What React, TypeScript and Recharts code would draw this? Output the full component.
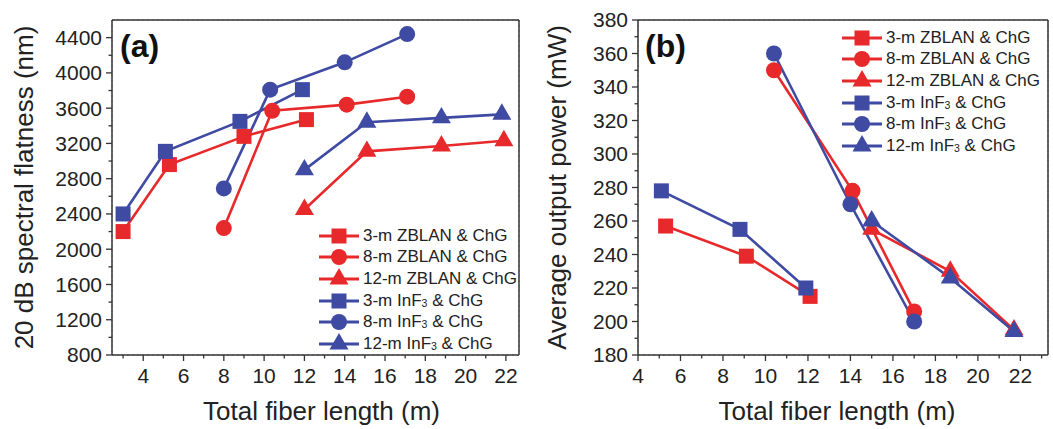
import React from "react";
import { CartesianGrid, Label, Legend, Line, LineChart, ReferenceLine, XAxis, YAxis } from "recharts";

const RED = "#e8292b";
const BLUE = "#3f4aa3";
const AXIS = "#333333";
const FONT = "'Liberation Sans', Arial, sans-serif";

// (a) 20 dB spectral flatness (nm) vs total fiber length (m)
const lenZ3 = [3, 5.3, 9, 12.1];
const flatZ3 = [2200, 2960, 3280, 3470];
const lenZ8 = [8, 10.4, 14.1, 17.1];
const flatZ8 = [2240, 3570, 3640, 3730];
const lenZ12 = [12, 15.1, 18.8, 21.9];
const flatZ12 = [2450, 3110, 3170, 3230];
const lenI3 = [3, 5.1, 8.8, 11.9];
const flatI3 = [2400, 3110, 3450, 3810];
const lenI8 = [8, 10.3, 14, 17.1];
const flatI8 = [2690, 3810, 4120, 4440];
const lenI12 = [12, 15.1, 18.8, 21.8];
const flatI12 = [2900, 3440, 3490, 3530];

// (b) average output power (mW) vs total fiber length (m)
const pLenZ3 = [5.3, 9.1, 12.1];
const powZ3 = [257, 239, 215];
const pLenZ8 = [10.4, 14.1, 17];
const powZ8 = [350, 278, 206];
const pLenZ12 = [15, 18.7, 21.7];
const powZ12 = [255, 230, 195];
const pLenI3 = [5.1, 8.8, 11.9];
const powI3 = [278, 255, 220];
const pLenI8 = [10.4, 14, 17];
const powI8 = [360, 270, 200];
const pLenI12 = [15, 18.7, 21.7];
const powI12 = [260, 226, 194];

const names = [
  "3-m ZBLAN & ChG",
  "8-m ZBLAN & ChG",
  "12-m ZBLAN & ChG",
  "3-m InF3 & ChG",
  "8-m InF3 & ChG",
  "12-m InF3 & ChG",
];
const colors = [RED, RED, RED, BLUE, BLUE, BLUE];
const shapes = ["square", "circle", "triangle", "square", "circle", "triangle"];

// ticks
const xTicksA = [3, 4, 5, 6, 7, 8, 9, 10, 11, 12, 13, 14, 15, 16, 17, 18, 19, 20, 21, 22];
const xGridA = [4, 6, 8, 10, 12, 14, 16, 18, 20, 22];
const yTicksA = [800, 1000, 1200, 1400, 1600, 1800, 2000, 2200, 2400, 2600, 2800, 3000, 3200, 3400, 3600, 3800, 4000, 4200, 4400];
const yGridA = [1200, 1600, 2000, 2400, 2800, 3200, 3600, 4000, 4400];
const xTicksB = [4, 5, 6, 7, 8, 9, 10, 11, 12, 13, 14, 15, 16, 17, 18, 19, 20, 21, 22, 23];
const xGridB = [6, 8, 10, 12, 14, 16, 18, 20, 22];
const yTicksB = [180, 190, 200, 210, 220, 230, 240, 250, 260, 270, 280, 290, 300, 310, 320, 330, 340, 350, 360, 370, 380];
const yGridB = [200, 220, 240, 260, 280, 300, 320, 340, 360];

const zip = (xs: number[], ys: number[]) => xs.map((x, i) => ({ x, y: ys[i] }));

const flatSeries = [
  zip(lenZ3, flatZ3),
  zip(lenZ8, flatZ8),
  zip(lenZ12, flatZ12),
  zip(lenI3, flatI3),
  zip(lenI8, flatI8),
  zip(lenI12, flatI12),
];
const powSeries = [
  zip(pLenZ3, powZ3),
  zip(pLenZ8, powZ8),
  zip(pLenZ12, powZ12),
  zip(pLenI3, powI3),
  zip(pLenI8, powI8),
  zip(pLenI12, powI12),
];

function Marker({ cx, cy, shape, color }: { cx: number; cy: number; shape: string; color: string }) {
  if (cx == null || cy == null) return null;
  if (shape === "square") {
    return <rect x={cx - 7.5} y={cy - 7.5} width={15} height={15} fill={color} />;
  }
  if (shape === "circle") {
    return <circle cx={cx} cy={cy} r={8} fill={color} />;
  }
  const s = 19;
  const h = s * 0.866;
  const pts = `${cx},${cy - (2 * h) / 3} ${cx - s / 2},${cy + h / 3} ${cx + s / 2},${cy + h / 3}`;
  return <polygon points={pts} fill={color} />;
}

function SeriesName({ text }: { text: string }) {
  const i = text.indexOf("InF3");
  if (i < 0) return <>{text}</>;
  return (
    <>
      {text.slice(0, i)}InF
      <span style={{ fontSize: "0.62em", verticalAlign: "-0.05em" }}>3</span>
      {text.slice(i + 4)}
    </>
  );
}

function LegendBox({ payload }: any) {
  const items = [...(payload || [])].sort((a: any, b: any) => names.indexOf(a.value) - names.indexOf(b.value));
  return (
    <div style={{ fontFamily: FONT, fontSize: 17, color: "#222" }}>
      {items.map((item: any) => {
        const k = names.indexOf(item.value);
        return (
          <div key={item.value} style={{ display: "flex", alignItems: "center", height: 21.6 }}>
            <svg width={40} height={20} style={{ overflow: "visible" }}>
              <line x1={0} x2={40} y1={10} y2={10} stroke={colors[k]} strokeWidth={3} />
              <Marker cx={20} cy={10} shape={shapes[k]} color={colors[k]} />
            </svg>
            <span style={{ marginLeft: 4, whiteSpace: "nowrap" }}>
              <SeriesName text={item.value} />
            </span>
          </div>
        );
      })}
    </div>
  );
}

const makeXTick = (isMajor: (v: number) => boolean) => (props: any) => {
  const { x, y, payload } = props;
  const v = payload.value;
  const major = isMajor(v);
  return (
    <g>
      <line x1={x} x2={x} y1={y} y2={y + (major ? 6 : 3.5)} stroke={AXIS} strokeWidth={1.3} />
      {major && (
        <text x={x} y={y + 13} dy="0.71em" textAnchor="middle" fontSize={21} fill="#222" fontFamily={FONT}>
          {v}
        </text>
      )}
    </g>
  );
};

const makeYTick = (isMajor: (v: number) => boolean) => (props: any) => {
  const { x, y, payload } = props;
  const v = payload.value;
  const major = isMajor(v);
  return (
    <g>
      <line x1={x} x2={x - (major ? 6 : 3.5)} y1={y} y2={y} stroke={AXIS} strokeWidth={1.3} />
      {major && (
        <text x={x - 10} y={y} dy="0.355em" textAnchor="end" fontSize={21} fill="#222" fontFamily={FONT}>
          {v}
        </text>
      )}
    </g>
  );
};

const evenX = (v: number) => Math.round(v) % 2 === 0;

function Panel({
  width,
  series,
  xDomain,
  yDomain,
  xTicks,
  xGrid,
  yTicks,
  yGrid,
  yMajor,
  yTitle,
  yAxisWidth,
  yTitleOffset,
  marginRight,
  legendLeft,
  legendTop,
  xTitleDx,
}: any) {
  const axisLine = { stroke: AXIS, strokeWidth: 1.5 };
  return (
    <LineChart width={width} height={429} margin={{ top: 20, right: marginRight, left: 0, bottom: 9 }}>
      <CartesianGrid
        xAxisId="frame"
        yAxisId="frame"
        stroke="#b0b0b0"
        strokeDasharray="2 3"
        strokeWidth={1}
      />
      <XAxis
        dataKey="x"
        type="number"
        domain={xDomain}
        ticks={xTicks}
        interval={0}
        allowDataOverflow
        tickSize={0}
        tickMargin={0}
        tickLine={false}
        tick={makeXTick(evenX)}
        axisLine={axisLine}
        height={65}
      >
        <Label
          value="Total fiber length (m)"
          position="insideBottom"
          offset={0}
          dx={xTitleDx}
          style={{ fontSize: 26, fill: "#222", fontFamily: FONT }}
        />
      </XAxis>
      <YAxis
        type="number"
        domain={yDomain}
        ticks={yTicks}
        interval={0}
        allowDataOverflow
        tickSize={0}
        tickMargin={0}
        tickLine={false}
        tick={makeYTick(yMajor)}
        axisLine={axisLine}
        width={yAxisWidth}
      >
        <Label
          value={yTitle}
          angle={-90}
          position="insideLeft"
          offset={yTitleOffset}
          style={{ fontSize: 26, fill: "#222", fontFamily: FONT, textAnchor: "middle" }}
        />
      </YAxis>
      <XAxis
        xAxisId="frame"
        orientation="top"
        type="number"
        domain={xDomain}
        ticks={xGrid}
        interval={0}
        allowDataOverflow
        tick={false}
        tickLine={false}
        axisLine={false}
        height={0}
      />
      <YAxis
        yAxisId="frame"
        orientation="right"
        type="number"
        domain={yDomain}
        ticks={yGrid}
        interval={0}
        allowDataOverflow
        tick={false}
        tickLine={false}
        axisLine={false}
        width={0}
      />
      <ReferenceLine y={yDomain[1]} stroke={AXIS} strokeWidth={1.5} ifOverflow="visible" />
      <ReferenceLine x={xDomain[1]} stroke={AXIS} strokeWidth={1.5} ifOverflow="visible" />
      <Legend
        layout="vertical"
        align="center"
        verticalAlign="middle"
        content={<LegendBox />}
        wrapperStyle={{ left: legendLeft, top: legendTop, width: "auto", height: "auto", margin: 0 }}
      />
      {series.map((data: any, k: number) => (
        <Line
          key={names[k]}
          name={names[k]}
          data={data}
          dataKey="y"
          type="linear"
          stroke={colors[k]}
          strokeWidth={2.6}
          isAnimationActive={false}
          dot={(p: any) => <Marker key={`${k}-${p.index}`} cx={p.cx} cy={p.cy} shape={shapes[k]} color={colors[k]} />}
          activeDot={false}
        />
      ))}
    </LineChart>
  );
}

export default function App() {
  const panelLabel: React.CSSProperties = {
    position: "absolute",
    fontFamily: FONT,
    fontWeight: "bold",
    fontSize: 32,
    color: "#111",
    lineHeight: 1,
  };
  return (
    <div style={{ position: "absolute", left: 0, top: 0, width: 1053, height: 429, background: "#fff" }}>
      <div style={{ position: "absolute", left: 0, top: 0 }}>
        <Panel
          width={530}
          series={flatSeries}
          xDomain={[2.45, 22.65]}
          yDomain={[800, 4600]}
          xTicks={xTicksA}
          xGrid={xGridA}
          yTicks={yTicksA}
          yGrid={yGridA}
          yMajor={(v: number) => (v - 800) % 400 === 0}
          yTitle="20 dB spectral flatness (nm)"
          yAxisWidth={112}
          yTitleOffset={24}
          marginRight={11}
          legendLeft={319}
          legendTop={225}
          xTitleDx={6}
        />
      </div>
      <div style={{ position: "absolute", left: 530, top: 0 }}>
        <Panel
          width={523}
          series={powSeries}
          xDomain={[4, 23.3]}
          yDomain={[180, 380]}
          xTicks={xTicksB}
          xGrid={xGridB}
          yTicks={yTicksB}
          yGrid={yGridB}
          yMajor={(v: number) => v % 20 === 0}
          yTitle="Average output power (mW)"
          yAxisWidth={108}
          yTitleOffset={27}
          marginRight={5}
          legendLeft={312}
          legendTop={27}
          xTitleDx={-6}
        />
      </div>
      <div style={{ ...panelLabel, left: 120, top: 30 }}>(a)</div>
      <div style={{ ...panelLabel, left: 645, top: 30 }}>(b)</div>
    </div>
  );
}
